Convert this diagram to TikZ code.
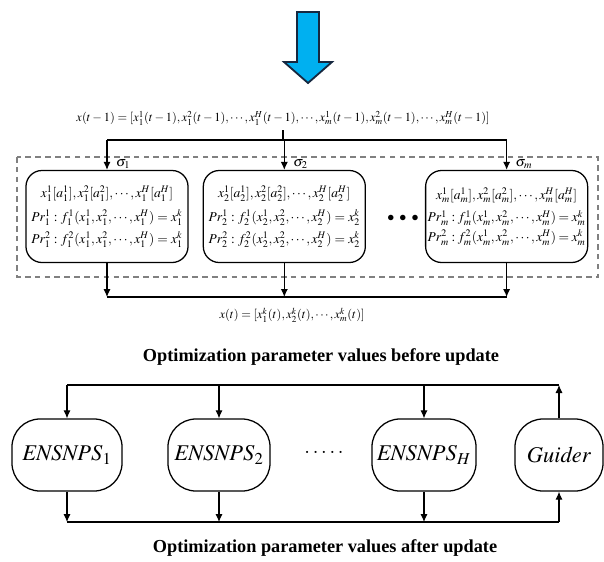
\documentclass[tikz,border=0pt]{standalone}
\usepackage{mathptmx}
\usepackage{fontspec}
\setmainfont{Liberation Serif}
\usetikzlibrary{arrows.meta,positioning}
\definecolor{arrowblue}{RGB}{0,176,240}
\definecolor{arrowedge}{RGB}{22,40,64}
\tikzset{>={Latex[width=1.8mm,length=2mm]}}
\tikzset{wire/.style={line width=0.8pt}}
\tikzset{cell/.style={shape=rectangle, draw, line width=0.9pt, rounded corners=4mm,
    minimum width=4.05cm, minimum height=2.3cm, text width=3.95cm, align=center, inner sep=0.5mm,
    font=\fontsize{9.6}{11}\selectfont}}
\tikzset{unit/.style={shape=rectangle, draw, line width=0.9pt, rounded corners=7mm,
    minimum width=2.75cm, minimum height=1.8cm, font=\fontsize{16}{19}\selectfont}}
\tikzset{caption/.style={font=\bfseries\fontsize{13}{15}\selectfont}}
\tikzset{formula/.style={font=\fontsize{8.8}{10}\selectfont}}
\tikzset{sigmalabel/.style={pos=1, anchor=base west, xshift=5pt, yshift=2.5pt, inner sep=1pt}}

\begin{document}
\begin{tikzpicture}[x=0.025cm, y=-0.025cm]
    \useasboundingbox (0,0) rectangle (604,561);

    % big blue arrow on top
    \draw[fill=arrowblue, draw=arrowedge, line width=1.3pt, line join=miter]
      (297,12) -- (319,12) -- (319,62) -- (332,62) -- (308,83) -- (284,62) -- (297,62) -- cycle;

    % upper part
    \node (xprev)[formula] at (283,118) {$x(t-1)=[x_1^1(t-1),x_1^2(t-1),\cdots,x_1^H(t-1),\cdots,x_m^1(t-1),x_m^2(t-1),\cdots,x_m^H(t-1)]$};
    \draw[gray, dashed, dash pattern=on 4pt off 3pt, line width=0.9pt] (17,157) rectangle (598,277);

    \node (c1)[cell] at (107,216.5) {$x_1^1[a_1^1],x_1^2[a_1^2],\cdots,x_1^H[a_1^H]$\\[5pt]
      $Pr_1^1:f_1^1(x_1^1,x_1^2,\cdots,x_1^H)=x_1^k$\\[3pt]
      $Pr_1^2:f_1^2(x_1^1,x_1^2,\cdots,x_1^H)=x_1^k$};
    \node (c2)[cell, right=0.35cm of c1] {$x_2^1[a_2^1],x_2^2[a_2^2],\cdots,x_2^H[a_2^H]$\\[5pt]
      $Pr_2^1:f_2^1(x_2^1,x_2^2,\cdots,x_2^H)=x_2^k$\\[3pt]
      $Pr_2^2:f_2^2(x_2^1,x_2^2,\cdots,x_2^H)=x_2^k$};
    \node (cm)[cell, right=1.475cm of c2] {$x_m^1[a_m^1],x_m^2[a_m^2],\cdots,x_m^H[a_m^H]$\\[5pt]
      $Pr_m^1:f_m^1(x_m^1,x_m^2,\cdots,x_m^H)=x_m^k$\\[3pt]
      $Pr_m^2:f_m^2(x_m^1,x_m^2,\cdots,x_m^H)=x_m^k$};
    \node (dots1) at (403,218) {$\bullet\;\bullet\;\bullet$};

    \coordinate (split) at (283,140);
    \coordinate (join) at (283,297);
    \draw[wire] (xprev.south -| split) -- (split);
    \draw[wire] (c1.north |- split) -- (cm.north |- split);
    \draw[wire,->] (c1.north |- split) -- node[sigmalabel] {$\sigma_1$} (c1.north);
    \draw[wire,->] (c2.north |- split) -- node[sigmalabel] {$\sigma_2$} (c2.north);
    \draw[wire,->] (cm.north |- split) -- node[sigmalabel] {$\sigma_m$} (cm.north);

    \draw[wire] (c1.south |- join) -- (cm.south |- join);
    \draw[wire,->] (c1.south) -- (c1.south |- join);
    \draw[wire,->] (c2.south) -- (c2.south |- join);
    \draw[wire,->] (cm.south) -- (cm.south |- join);
    \node (xnow)[formula] at (292,315) {$x(t)=[x_1^k(t),x_2^k(t),\cdots,x_m^k(t)]$};

    % lower part
    \node (before)[caption] at (321,357) {Optimization parameter values before update};
    \node (e1)[unit] at (67,455) {$\mathit{ENSNPS}_1$};
    \node (e2)[unit, minimum width=2.55cm] at (219,455) {$\mathit{ENSNPS}_2$};
    \node (eh)[unit, minimum width=2.6cm] at (424,455) {$\mathit{ENSNPS}_H$};
    \node (gd)[unit, minimum width=2.2cm] at (559,455) {$\mathit{Guider}$};
    \node (dots2) at (324,453) {\Large$\cdot\cdot\cdot\cdot\cdot$};
    \node (after)[caption] at (325,548) {Optimization parameter values after update};

    \coordinate (feed) at (67,385);
    \coordinate (collect) at (67,522);
    \draw[wire] (e1.north |- feed) -- (gd.north |- feed);
    \draw[wire,->] (e1.north |- feed) -- (e1.north);
    \draw[wire,->] (e2.north |- feed) -- (e2.north);
    \draw[wire,->] (eh.north |- feed) -- (eh.north);
    \draw[wire,->] (gd.north) -- (gd.north |- feed);

    \draw[wire] (e1.south |- collect) -- (gd.south |- collect);
    \draw[wire,->] (e1.south) -- (e1.south |- collect);
    \draw[wire,->] (e2.south) -- (e2.south |- collect);
    \draw[wire,->] (eh.south) -- (eh.south |- collect);
    \draw[wire,->] (gd.south |- collect) -- (gd.south);
\end{tikzpicture}
\end{document}
